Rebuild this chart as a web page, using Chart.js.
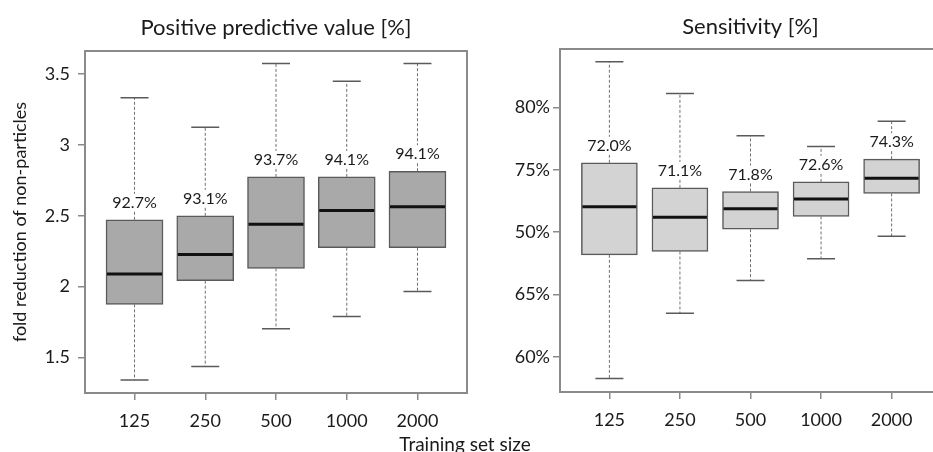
<!DOCTYPE html>
<html>
<head>
<meta charset="utf-8">
<script src="https://cdn.jsdelivr.net/npm/chart.js@4.4.0/dist/chart.umd.min.js"></script>
<style>
html, body { margin:0; padding:0; background:#fff; overflow:hidden; width:933px; height:452px; }
#left { position:absolute; left:0; top:0; }
#right { position:absolute; left:470px; top:0; }
#xTitle { position:absolute; left:0; width:930px; top:432px; text-align:center; font:19px Lato; color:#1a1a1a; }
</style>
</head>
<body>
<canvas id="left" width="470" height="452"></canvas>
<canvas id="right" width="475" height="452"></canvas>
<div id="xTitle">Training set size</div>
<script>
"use strict"

// training set sizes (x axis)
const sizes = ["125", "250", "500", "1000", "2000"];

// left panel: fold reduction of non-particles, labels = PPV
const ppvLabels = ["92.7%", "93.1%", "93.7%", "94.1%", "94.1%"];
const foldMin = [1.34, 1.437, 1.702, 1.79, 1.965];
const foldQ1  = [1.875, 2.042, 2.129, 2.275, 2.275];
const foldMed = [2.089, 2.227, 2.441, 2.537, 2.565];
const foldQ3  = [2.472, 2.5, 2.775, 2.775, 2.815];
const foldMax = [3.333, 3.125, 3.575, 3.45, 3.575];
const foldTicks = [1.5, 2, 2.5, 3, 3.5];
const foldTickLabels = ["1.5", "2", "2.5", "3", "3.5"];

// right panel: sensitivity
const sensLabels = ["72.0%", "71.1%", "71.8%", "72.6%", "74.3%"];
const sensMin = [58.27, 63.5, 66.13, 67.86, 69.68];
const sensQ1  = [68.18, 68.45, 70.24, 71.26, 73.1];
const sensMed = [72.03, 71.2, 71.87, 72.65, 74.33];
const sensQ3  = [75.56, 73.55, 73.26, 74.03, 75.85];
const sensMax = [83.66, 81.12, 77.72, 76.87, 78.88];
const sensTicks = [60, 65, 70, 75, 80];
const sensTickLabels = ["60%", "65%", "50%", "75%", "80%"];

const txt = "#1a1a1a";
const frameCol = "#8a8a8a";

// draws whiskers, caps, medians, value labels and the frame
const boxPlugin = {
    id: "boxExtras",
    afterDatasetsDraw(chart) {
        const st = chart.options.plugins.boxExtras;
        const ctx = chart.ctx;
        const xs = chart.scales.x;
        const ys = chart.scales.y;
        const meta = chart.getDatasetMeta(0);
        ctx.save();
        for (let i = 0; i < st.med.length; i++) {
            const x = xs.getPixelForValue(i + 1);
            const half = meta.data[i].width / 2;
            const yMin = ys.getPixelForValue(st.min[i]);
            const yMax = ys.getPixelForValue(st.max[i]);
            const yQ1 = ys.getPixelForValue(st.q1[i]);
            const yQ3 = ys.getPixelForValue(st.q3[i]);
            const yMed = ys.getPixelForValue(st.med[i]);

            // dashed whiskers
            ctx.strokeStyle = "#707070";
            ctx.lineWidth = 1;
            ctx.setLineDash([3, 2]);
            ctx.beginPath();
            ctx.moveTo(x, yQ3); ctx.lineTo(x, yMax);
            ctx.moveTo(x, yQ1); ctx.lineTo(x, yMin);
            ctx.stroke();
            ctx.setLineDash([]);

            // caps
            ctx.strokeStyle = "#5a5a5a";
            ctx.lineWidth = 1.5;
            ctx.beginPath();
            ctx.moveTo(x - 14, yMax); ctx.lineTo(x + 14, yMax);
            ctx.moveTo(x - 14, yMin); ctx.lineTo(x + 14, yMin);
            ctx.stroke();

            // median
            ctx.strokeStyle = "#111";
            ctx.lineWidth = 3;
            ctx.beginPath();
            ctx.moveTo(x - half + 1, yMed); ctx.lineTo(x + half - 1, yMed);
            ctx.stroke();

            // label above box
            ctx.font = "16px Lato";
            const w = ctx.measureText(st.labels[i]).width;
            const ly = yQ3 - 17;
            ctx.fillStyle = "#fff";
            ctx.fillRect(x - w / 2 - 3, ly - 9, w + 6, 17);
            ctx.fillStyle = txt;
            ctx.textAlign = "center";
            ctx.textBaseline = "middle";
            ctx.fillText(st.labels[i], x, ly);
        }
        // frame
        const a = chart.chartArea;
        ctx.strokeStyle = frameCol;
        ctx.lineWidth = 2;
        ctx.strokeRect(a.left, a.top, a.right - a.left, a.bottom - a.top);
        ctx.restore();
    }
};

function creaGrafico(canvas, cfg) {
    return new Chart(canvas, {
        type: "bar",
        data: {
            datasets: [{
                data: cfg.q1.map((v, i) => ({ x: i + 1, y: [v, cfg.q3[i]] })),
                backgroundColor: cfg.fill,
                borderColor: "#5a5a5a",
                borderWidth: 1.5,
                borderSkipped: false,
                barThickness: cfg.boxWidth
            }]
        },
        options: {
            responsive: false,
            animation: false,
            events: [],
            layout: { padding: { left: 0, right: cfg.padRight, top: 0, bottom: 0 } },
            plugins: {
                legend: { display: false },
                tooltip: { enabled: false },
                title: {
                    display: true,
                    text: cfg.title,
                    fullSize: false,
                    color: txt,
                    font: { family: "Lato", size: 22, weight: "normal" },
                    padding: { top: cfg.titleTop, bottom: cfg.titleBottom }
                },
                boxExtras: cfg
            },
            scales: {
                x: {
                    type: "linear",
                    min: 0.3,
                    max: 5.7,
                    offset: false,
                    afterBuildTicks: s => { s.ticks = sizes.map((_, i) => ({ value: i + 1 })); },
                    afterFit: s => { s.height = cfg.xHeight; },
                    ticks: {
                        callback: v => sizes[v - 1],
                        color: txt,
                        font: { family: "Lato", size: 18 },
                        padding: 10,
                        maxRotation: 0
                    },
                    grid: { display: true, drawOnChartArea: false, drawTicks: true, tickLength: 7, color: frameCol, lineWidth: 1.5, offset: false },
                    border: { display: false }
                },
                y: {
                    min: cfg.yMin,
                    max: cfg.yMax,
                    beginAtZero: false,
                    afterBuildTicks: s => { s.ticks = cfg.ticks.map(v => ({ value: v })); },
                    afterFit: s => { s.width = cfg.yWidth; },
                    ticks: {
                        callback: v => cfg.tickLabels[cfg.ticks.indexOf(v)],
                        color: txt,
                        font: { family: "Lato", size: 18 },
                        padding: cfg.tickPad
                    },
                    grid: { display: true, drawOnChartArea: false, drawTicks: true, tickLength: 7, color: frameCol, lineWidth: 1.5 },
                    border: { display: false },
                    title: {
                        display: !!cfg.yTitle,
                        text: cfg.yTitle || "",
                        color: txt,
                        font: { family: "Lato", size: 18 },
                        padding: { top: 9, bottom: 0 }
                    }
                }
            }
        },
        plugins: [boxPlugin]
    });
}

creaGrafico(document.getElementById("left"), {
    title: "Positive predictive value [%]",
    yTitle: "fold reduction of non-particles",
    min: foldMin, q1: foldQ1, med: foldMed, q3: foldQ3, max: foldMax,
    labels: ppvLabels,
    ticks: foldTicks, tickLabels: foldTickLabels,
    yMin: 1.249, yMax: 3.664,
    fill: "#a9a9a9",
    boxWidth: 57,
    yWidth: 85, xHeight: 59, padRight: 3,
    titleTop: 15, titleBottom: 9.6,
    tickPad: 8
});

creaGrafico(document.getElementById("right"), {
    title: "Sensitivity [%]",
    yTitle: null,
    min: sensMin, q1: sensQ1, med: sensMed, q3: sensQ3, max: sensMax,
    labels: sensLabels,
    ticks: sensTicks, tickLabels: sensTickLabels,
    yMin: 57.19, yMax: 84.68,
    fill: "#d3d3d3",
    boxWidth: 56,
    yWidth: 90, xHeight: 60, padRight: 4,
    titleTop: 14, titleBottom: 8.6,
    tickPad: 3
});
</script>
</body>
</html>
